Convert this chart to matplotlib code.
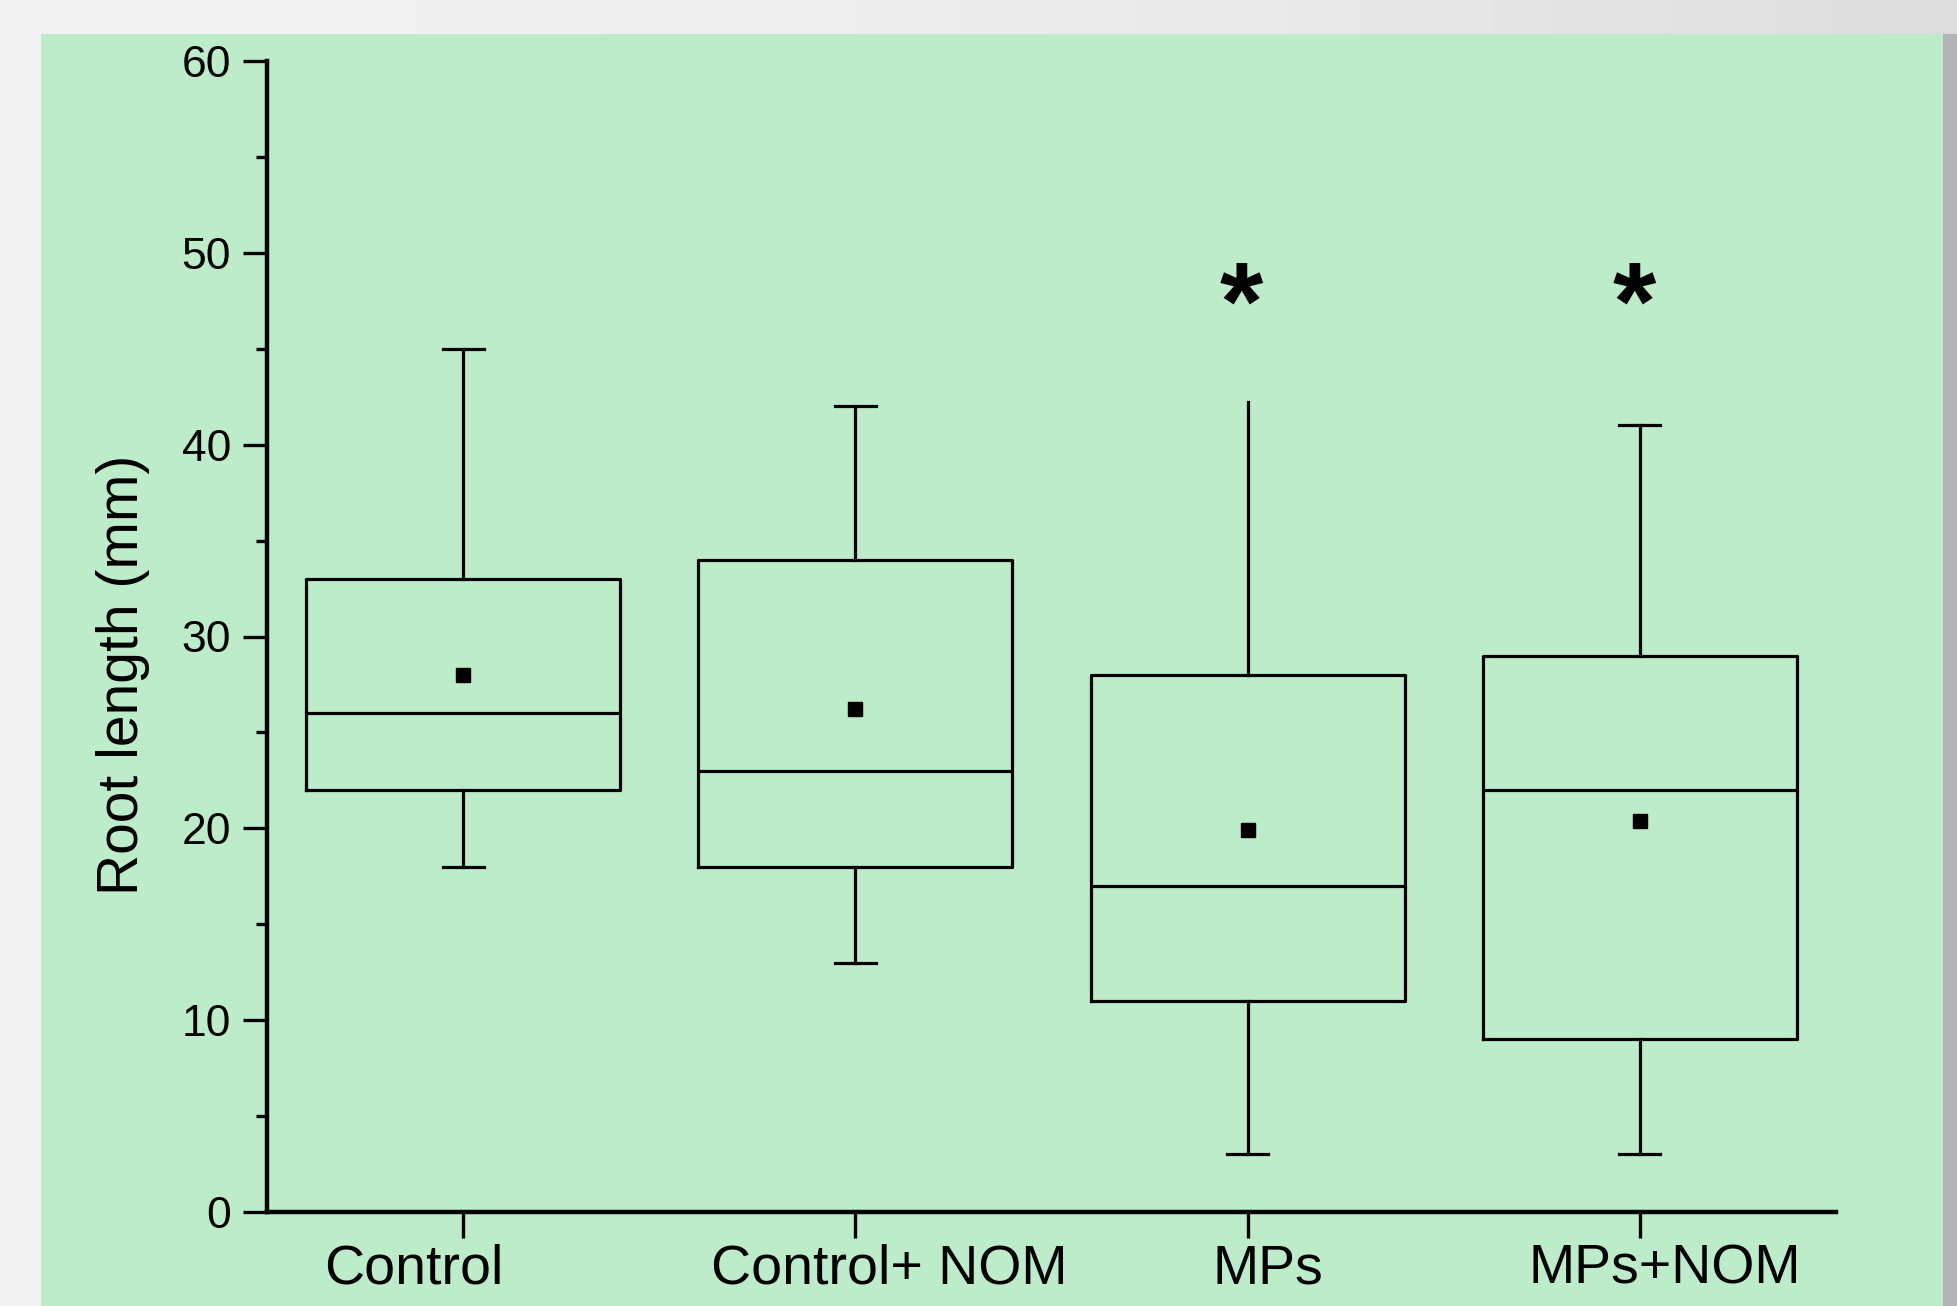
import numpy as np
import matplotlib
matplotlib.use("Agg")
import matplotlib.pyplot as plt
import matplotlib.transforms as mtransforms
from matplotlib.patches import Rectangle

plt.rcParams['font.family'] = ['Liberation Sans', 'DejaVu Sans']

# ---- data ----
categories = ["Control", "Control+ NOM", "MPs", "MPs+NOM"]
whisker_low = [18, 13, 3, 3]
q1 = [22, 18, 11, 9]
median = [26, 23, 17, 22]
q3 = [33, 34, 28, 29]
whisker_high = [45, 42, 42.2, 41]
means = [28.0, 26.2, 19.9, 20.4]
significant = [False, False, True, True]
star_y = 45.5
y_ticks = [0, 10, 20, 30, 40, 50, 60]

W, H, DPI = 1958, 1306, 100
fig = plt.figure(figsize=(W / DPI, H / DPI), dpi=DPI)

# background gradient (gray)
bg = fig.add_axes([0, 0, 1, 1], zorder=-10)
grad = np.linspace(0, 1, 400)
row = 0.945 - 0.08 * grad ** 2
img = np.tile(row, (50, 1))
bg.imshow(img, cmap='gray', vmin=0, vmax=1, aspect='auto', extent=[0, 1, 0, 1])
bg.set_xlim(0, 1); bg.set_ylim(0, 1)
bg.axis('off')
# green panel
bg.add_patch(Rectangle((41 / W, 0), (1943 - 41) / W, 1 - 34 / H,
                       facecolor='#bcecca', edgecolor='none'))
bg.add_patch(Rectangle((1943 / W, 0), (W - 1943) / W, 1 - 34 / H,
                       facecolor='#b4b4b7', edgecolor='none'))

ax = fig.add_axes([267 / W, 1 - 1212 / H, (1836 - 267) / W, (1212 - 61) / H])
ax.patch.set_alpha(0)

stats = []
for i, c in enumerate(categories):
    stats.append(dict(label=c, whislo=whisker_low[i], q1=q1[i], med=median[i],
                      q3=q3[i], whishi=whisker_high[i], mean=means[i], fliers=[]))

positions = np.arange(1, len(categories) + 1)
lw = 2.3
res = ax.bxp(stats, positions=positions, widths=0.8, capwidths=0.105,
             showmeans=True, patch_artist=False,
             boxprops=dict(color='black', linewidth=lw),
             whiskerprops=dict(color='black', linewidth=lw),
             capprops=dict(color='black', linewidth=lw),
             medianprops=dict(color='black', linewidth=lw),
             meanprops=dict(marker='s', markerfacecolor='black',
                            markeredgecolor='black', markersize=9.5))
# MPs top whisker has no cap in the original
res['caps'][2 * 2 + 1].set_visible(False)

for i, s in enumerate(significant):
    if s:
        ax.text(positions[i] - 0.015, star_y, '*', ha='center', va='baseline',
                fontsize=80, fontweight='bold', color='black')

ax.set_xlim(0.5, 4.5)
ax.set_ylim(0, 60)
ax.set_yticks(y_ticks)
ax.set_yticks(np.arange(5, 60, 10), minor=True)
ax.set_xticks(positions)
ax.set_xticklabels(categories, fontsize=40)
ax.tick_params(axis='y', labelsize=32, length=17, width=2.4, pad=9, direction='out')
ax.tick_params(axis='y', which='minor', length=8, width=2.4)
ax.tick_params(axis='x', length=19, width=2.4, pad=4)

for sp in ['top', 'right']:
    ax.spines[sp].set_visible(False)
for sp in ['left', 'bottom']:
    ax.spines[sp].set_linewidth(3.2)

# x label offsets (as in original)
offsets_px = [-49, 34, 20, 25]
for lab, dx in zip(ax.get_xticklabels(), offsets_px):
    lab.set_transform(lab.get_transform() +
                      mtransforms.ScaledTranslation(dx / DPI, 0, fig.dpi_scale_trans))

ax.set_ylabel('Root length (mm)', fontsize=41)
ax.yaxis.set_label_coords(-0.0746, 0.4666)

fig.savefig('out.png', dpi=DPI)
